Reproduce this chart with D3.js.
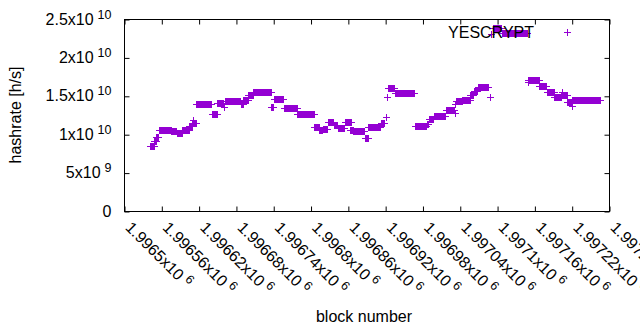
<!DOCTYPE html>
<html>
<head>
<meta charset="utf-8">
<script src="https://cdn.jsdelivr.net/npm/d3@7/dist/d3.min.js"></script>
<style>
body { margin: 0; background: #fff; }
text { font-family: "Liberation Sans", Arial, sans-serif; fill: #000; }
</style>
</head>
<body>
<div id="chart-area"></div>
<script>
const MARGIN = {LEFT: 124.5, RIGHT: 30.5, TOP: 19.5, BOTTOM: 118.5}
const WIDTH = 640 - MARGIN.LEFT - MARGIN.RIGHT
const HEIGHT = 330 - MARGIN.TOP - MARGIN.BOTTOM
const COLOR = "#9400d3"
const FONT = 16

// runs of consecutive blocks (hashrate in 1e9 h/s)
const runFrom = [1996542, 1996549, 1996552, 1996556, 1996576, 1996585, 1996594, 1996605, 1996610, 1996611,
    1996616, 1996641, 1996650, 1996661, 1996662, 1996688, 1996692, 1996700, 1996708, 1996737,
    1996741, 1996757, 1996779, 1996806, 1996814, 1996820, 1996828, 1996837, 1996844, 1996855,
    1996864, 1996869, 1996887, 1996893, 1996913, 1996921, 1996923, 1996925, 1996936, 1996968,
    1996987, 1996990, 1996998, 1997018, 1997032, 1997033, 1997034, 1997044, 1997057, 1997063,
    1997069, 1997088, 1997091, 1997093, 1997108, 1997149, 1997150, 1997168, 1997180, 1997192,
    1997204, 1997203, 1997213, 1997220, 1997221]
const runTo = [1996548, 1996551, 1996555, 1996575, 1996584, 1996593, 1996604, 1996609, 1996615, 1996611,
    1996640, 1996649, 1996659, 1996661, 1996687, 1996691, 1996699, 1996707, 1996736, 1996740,
    1996756, 1996778, 1996805, 1996813, 1996819, 1996827, 1996836, 1996843, 1996854, 1996865,
    1996868, 1996886, 1996892, 1996912, 1996918, 1996921, 1996923, 1996935, 1996967, 1996986,
    1996989, 1996997, 1997017, 1997031, 1997032, 1997033, 1997043, 1997056, 1997062, 1997068,
    1997086, 1997088, 1997091, 1997107, 1997148, 1997149, 1997167, 1997179, 1997191, 1997202,
    1997204, 1997212, 1997219, 1997220, 1997265]
const runRate = [8.46, 9.1, 9.7, 10.6, 10.4, 10.2, 10.6, 11.1, 11.4, 11.9,
    13.93, 12.57, 14.1, 13.5, 14.26, 13.96, 14.39, 15.04, 15.44, 13.5,
    14.53, 13.36, 12.59, 10.9, 10.5, 10.68, 11.59, 11.16, 10.87, 11.55,
    10.55, 10.42, 9.57, 10.94, 11.42, 12.24, 14.8, 15.98, 15.33, 11.03,
    11.29, 11.94, 12.37, 13.11, 12.76, 13.96, 14.26, 14.49, 15.1, 15.6,
    16.1, 14.84, 23.1, 23.8, 23.15, 16.84, 17.03, 16.24, 15.53, 14.79,
    15.5, 15.1, 14.19, 13.67, 14.41]

const xTickValues = [1996500, 1996560, 1996620, 1996680, 1996740, 1996800, 1996860,
    1996920, 1996980, 1997040, 1997100, 1997160, 1997220, 1997280]
const yTickValues = [0, 5e9, 1e10, 1.5e10, 2e10, 2.5e10]

// one point per block
const points = []
runFrom.forEach((from, i) => {
    for (let b = from; b <= runTo[i]; b++) points.push({block: b, rate: runRate[i] * 1e9})
})

const svg = d3.select("#chart-area").append("svg")
    .attr("width", 640)
    .attr("height", 330)
    .style("display", "block")

const g = svg.append("g")
    .attr("transform", `translate(${MARGIN.LEFT},${MARGIN.TOP})`)

const x = d3.scaleLinear().domain([1996500, 1997280]).range([0, WIDTH])
const y = d3.scaleLinear().domain([0, 2.5e10]).range([HEIGHT, 0])

// split a value into mantissa and power of ten like gnuplot's "x10^{n}"
function sci(v) {
    if (v === 0) return null
    const e = Math.floor(Math.log10(v) + 1e-9)
    return {m: String(+(v / 10 ** e).toFixed(6)), e: e}
}

// ticks on all four sides, pointing inwards
g.append("g").call(d3.axisBottom(x).tickValues(xTickValues).tickSize(5).tickFormat("").tickSizeOuter(0))
    .attr("transform", `translate(0,${HEIGHT})`)
    .call(a => a.selectAll(".tick line").attr("y2", -5))
g.append("g").call(d3.axisTop(x).tickValues(xTickValues).tickSize(5).tickFormat("").tickSizeOuter(0))
    .call(a => a.selectAll(".tick line").attr("y2", 5))
g.append("g").call(d3.axisLeft(y).tickValues(yTickValues).tickSize(5).tickFormat("").tickSizeOuter(0))
    .call(a => a.selectAll(".tick line").attr("x2", 5))
g.append("g").call(d3.axisRight(y).tickValues(yTickValues).tickSize(5).tickFormat("").tickSizeOuter(0))
    .attr("transform", `translate(${WIDTH},0)`)
    .call(a => a.selectAll(".tick line").attr("x2", -5))
g.selectAll(".domain").remove()
g.selectAll(".tick line").attr("stroke", "#000")

g.append("rect")
    .attr("width", WIDTH)
    .attr("height", HEIGHT)
    .attr("fill", "none")
    .attr("stroke", "#000")

// y tick labels
g.selectAll(".ylabel").data(yTickValues).enter().append("text")
    .attr("class", "ylabel")
    .attr("x", -13)
    .attr("y", d => y(d) + 5)
    .attr("text-anchor", "end")
    .attr("font-size", FONT)
    .each(function(d) {
        const s = sci(d)
        const t = d3.select(this)
        if (!s) { t.text("0"); return }
        t.append("tspan").text(s.m + "x10")
        t.append("tspan").attr("dx", 4).attr("dy", -6).attr("font-size", 12.5).text(s.e)
    })

// x tick labels, rotated
g.selectAll(".xlabel").data(xTickValues).enter().append("text")
    .attr("class", "xlabel")
    .attr("transform", d => `translate(${x(d) + 4},${HEIGHT + 13}) rotate(45)`)
    .attr("dy", "0.35em")
    .attr("font-size", FONT)
    .each(function(d) {
        const s = sci(d)
        const t = d3.select(this)
        t.append("tspan").text(s.m + "x10")
        t.append("tspan").attr("dx", 4).attr("dy", -6).attr("font-size", 12.5).text(s.e)
    })

// axis titles
g.append("text")
    .attr("x", 364 - MARGIN.LEFT)
    .attr("y", HEIGHT + 110)
    .attr("text-anchor", "middle")
    .attr("font-size", FONT)
    .text("block number")

g.append("text")
    .attr("transform", `translate(${21 - MARGIN.LEFT},${115 - MARGIN.TOP}) rotate(-90)`)
    .attr("text-anchor", "middle")
    .attr("font-size", FONT)
    .text("hashrate [h/s]")

const plus = (px, py) => `M${px - 3.5},${py}h7M${px},${py - 3.5}v7`

// data points
g.append("g").selectAll("path").data(points).enter().append("path")
    .attr("d", d => plus(x(d.block), y(d.rate)))
    .attr("stroke", COLOR)
    .attr("stroke-width", 1)
    .attr("fill", "none")
    .attr("shape-rendering", "crispEdges")

// key
g.append("text")
    .attr("x", 534 - MARGIN.LEFT)
    .attr("y", 37.5 - MARGIN.TOP)
    .attr("text-anchor", "end")
    .attr("font-size", FONT)
    .text("YESCRYPT")

g.append("path")
    .attr("d", plus(567 - MARGIN.LEFT, 32.7 - MARGIN.TOP))
    .attr("stroke", COLOR)
    .attr("fill", "none")
    .attr("shape-rendering", "crispEdges")
</script>
</body>
</html>
